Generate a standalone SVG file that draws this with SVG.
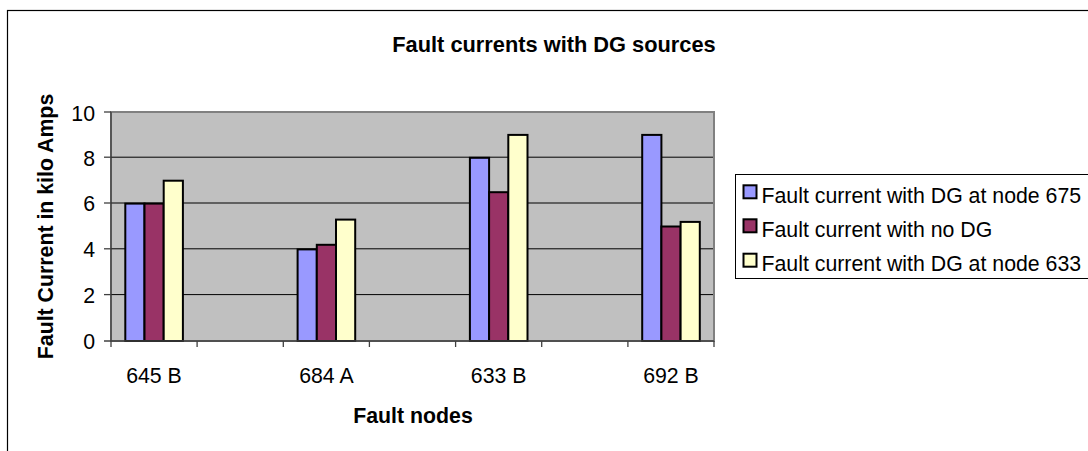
<svg xmlns="http://www.w3.org/2000/svg" width="1088" height="451" viewBox="0 0 1088 451">
<style>
text{font-family:"Liberation Sans",Arial,sans-serif;fill:#000}
.t{font-size:21.3px}
.b{font-size:21.3px;font-weight:bold}
.ttl{font-size:21.8px;font-weight:bold}
.grid{stroke:#000;stroke-width:1}
.bar{stroke:#000;stroke-width:2}
.c1{fill:#9999FF}
.c2{fill:#993366}
.c3{fill:#FFFFCC}
.ax{stroke:#404040;stroke-width:1.3}
</style>
<rect x="0" y="0" width="1088" height="451" fill="#fff"/>
<rect id="frame" x="7.5" y="10.5" width="1100" height="460" fill="#fff" stroke="#000" stroke-width="1.2"/>
<text id="title" class="ttl" x="554" y="52" text-anchor="middle">Fault currents with DG sources</text>
<g id="plot">
<rect x="111" y="112" width="603" height="229" fill="#C0C0C0" stroke="#808080" stroke-width="2"/>
<g id="gridlines">
<line class="grid" x1="111" y1="157.2" x2="713" y2="157.2"/>
<line class="grid" x1="111" y1="203" x2="713" y2="203"/>
<line class="grid" x1="111" y1="248.8" x2="713" y2="248.8"/>
<line class="grid" x1="111" y1="294.6" x2="713" y2="294.6"/>
</g>
</g>
<g id="bars">
<rect class="bar c1" x="125.3" y="203.6" width="19.2" height="137.4"/>
<rect class="bar c2" x="144.5" y="203.6" width="19.2" height="137.4"/>
<rect class="bar c3" x="163.7" y="180.7" width="19.2" height="160.3"/>
<rect class="bar c1" x="297.6" y="249.4" width="19.2" height="91.6"/>
<rect class="bar c2" x="316.8" y="244.8" width="19.2" height="96.2"/>
<rect class="bar c3" x="336" y="219.6" width="19.2" height="121.4"/>
<rect class="bar c1" x="469.9" y="157.8" width="19.2" height="183.2"/>
<rect class="bar c2" x="489.1" y="192.2" width="19.2" height="148.8"/>
<rect class="bar c3" x="508.3" y="134.9" width="19.2" height="206.1"/>
<rect class="bar c1" x="642.2" y="134.9" width="19.2" height="206.1"/>
<rect class="bar c2" x="661.4" y="226.5" width="19.2" height="114.5"/>
<rect class="bar c3" x="680.6" y="221.9" width="19.2" height="119.1"/>
</g>
<g id="axes">
<line class="ax" x1="111" y1="112" x2="111" y2="341"/>
<line class="ax" x1="104" y1="341" x2="714" y2="341"/>
<line class="ax" x1="104" y1="112" x2="111" y2="112"/>
<line class="ax" x1="104" y1="157.2" x2="111" y2="157.2"/>
<line class="ax" x1="104" y1="203" x2="111" y2="203"/>
<line class="ax" x1="104" y1="248.8" x2="111" y2="248.8"/>
<line class="ax" x1="104" y1="294.6" x2="111" y2="294.6"/>
<line class="ax" x1="111" y1="341" x2="111" y2="347"/>
<line class="ax" x1="197.1" y1="341" x2="197.1" y2="347"/>
<line class="ax" x1="283.3" y1="341" x2="283.3" y2="347"/>
<line class="ax" x1="369.4" y1="341" x2="369.4" y2="347"/>
<line class="ax" x1="455.6" y1="341" x2="455.6" y2="347"/>
<line class="ax" x1="541.7" y1="341" x2="541.7" y2="347"/>
<line class="ax" x1="627.9" y1="341" x2="627.9" y2="347"/>
<line class="ax" x1="714" y1="341" x2="714" y2="347"/>
</g>
<g id="ylabels">
<text class="t" x="95" y="121" text-anchor="end">10</text>
<text class="t" x="95" y="165.5" text-anchor="end">8</text>
<text class="t" x="95" y="211" text-anchor="end">6</text>
<text class="t" x="95" y="257" text-anchor="end">4</text>
<text class="t" x="95" y="302.5" text-anchor="end">2</text>
<text class="t" x="95" y="349" text-anchor="end">0</text>
</g>
<g id="xlabels">
<text class="t" x="154" y="383" text-anchor="middle">645 B</text>
<text class="t" x="326.4" y="383" text-anchor="middle">684 A</text>
<text class="t" x="498.7" y="383" text-anchor="middle">633 B</text>
<text class="t" x="671" y="383" text-anchor="middle">692 B</text>
</g>
<text id="xtitle" class="b" x="413" y="423" text-anchor="middle">Fault nodes</text>
<text id="ytitle" class="b" transform="translate(52.5,226.5) rotate(-90)" text-anchor="middle">Fault Current in kilo Amps</text>
<g id="legend">
<rect x="735.5" y="174.5" width="360" height="104" fill="#fff" stroke="#000" stroke-width="1"/>
<rect class="bar c1" x="743.5" y="185.3" width="13" height="13"/>
<rect class="bar c2" x="743.5" y="219.3" width="13" height="13"/>
<rect class="bar c3" x="743.5" y="253.7" width="13" height="13"/>
<text class="t" x="761.5" y="202.5">Fault current with DG at node 675</text>
<text class="t" x="761.5" y="236.7">Fault current with no DG</text>
<text class="t" x="761.5" y="271">Fault current with DG at node 633</text>
</g>
</svg>
